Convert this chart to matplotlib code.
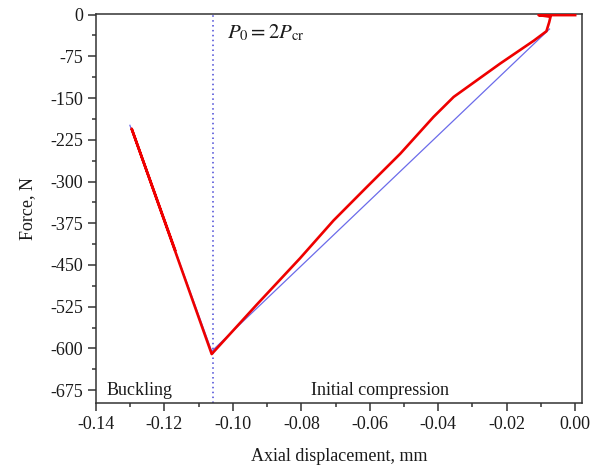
import matplotlib
matplotlib.use("Agg")
import matplotlib.pyplot as plt
from matplotlib.ticker import MultipleLocator

plt.rcParams["font.family"] = ["Liberation Serif", "DejaVu Serif"]
plt.rcParams["mathtext.fontset"] = "stix"
plt.rcParams["axes.unicode_minus"] = False

meas_x = [0.0, -0.0107, -0.0072, -0.0076, -0.0084, -0.0121, -0.0219, -0.0287,
          -0.0355, -0.0414, -0.0511, -0.0609, -0.0706, -0.0804,
          -0.0930, -0.1062, -0.1296, -0.1169]
meas_y = [-1, -1, -4, -14, -30, -47, -88, -118,
          -148, -184, -250, -310, -370, -438,
          -521, -610, -205, -423]

# model (thin blue line)
model_x = [-0.0075, -0.1062, -0.1301]
model_y = [-26, -605, -199]

# P0 = 2Pcr position
x_p0 = -0.1058

xticks = [-0.14, -0.12, -0.10, -0.08, -0.06, -0.04, -0.02, 0.00]
yticks = [0, -75, -150, -225, -300, -375, -450, -525, -600, -675]

fig = plt.figure(figsize=(6.02, 4.65), dpi=100)
ax = fig.add_axes([0.1595, 0.1333, 0.8073, 0.8366])

ax.plot(model_x, model_y, color="#6b6bea", lw=0.9, zorder=2)
ax.plot(meas_x, meas_y, color="#ee0000", lw=1.9, zorder=3)
ax.axvline(x_p0, color="#4646d6", lw=1.1, ls=(0, (1, 2.2)), zorder=1)

ax.set_xlim(-0.14, 0.002)
ax.set_ylim(-698, 1)
ax.set_xticks(xticks)
ax.set_xticklabels([f"{v:.2f}" for v in xticks])
ax.set_yticks(yticks)
ax.xaxis.set_minor_locator(MultipleLocator(0.01))
ax.yaxis.set_minor_locator(MultipleLocator(37.5))
ax.tick_params(which="both", direction="out", top=False, right=False,
               width=1.1, color="#333333", labelsize=13, labelcolor="#1a1a1a")
ax.tick_params(which="major", length=6)
ax.tick_params(which="minor", length=3)
for sp in ax.spines.values():
    sp.set_linewidth(1.1)
    sp.set_color("#333333")

ax.set_xlabel("Axial displacement, mm", fontsize=13, color="#1a1a1a", labelpad=11)
ax.set_ylabel("Force, N", fontsize=13, color="#1a1a1a", labelpad=10)

ax.text(-0.1016, -33, r"$P_{0} = 2P_{\rm cr}$", fontsize=15, color="#1a1a1a",
        va="center", ha="left")
ax.text(-0.137, -675, "Buckling", fontsize=13, color="#1a1a1a", va="center", ha="left")
ax.text(-0.0771, -675, "Initial compression", fontsize=13, color="#1a1a1a",
        va="center", ha="left")

fig.savefig("out.png", dpi=100)
